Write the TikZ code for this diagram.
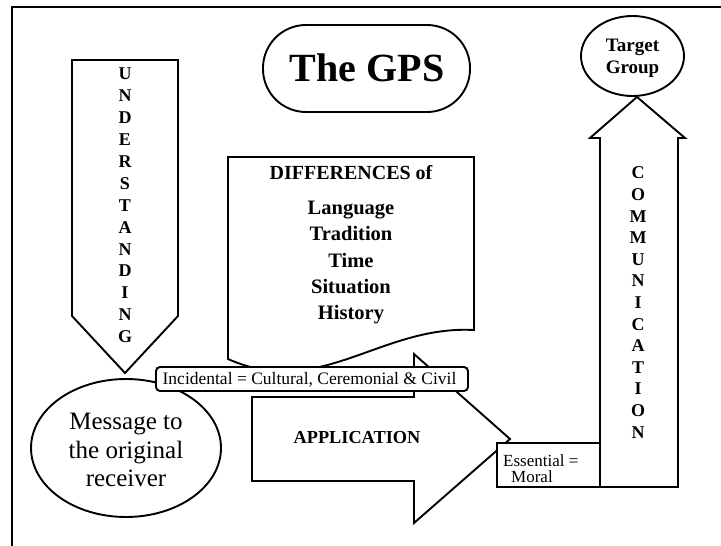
\documentclass[tikz,border=0pt]{standalone}
\usepackage{fontspec}
\setmainfont{Liberation Serif}
\begin{document}
\begin{tikzpicture}[x=1pt,y=-1pt,line join=miter,
  shp/.style={draw=black,fill=white,line width=1.9pt},
  letter/.style={font=\fontsize{18}{20}\selectfont\bfseries,inner sep=0pt},
  txt/.style={inner sep=0pt,align=center}]
\useasboundingbox (0,0) rectangle (721,546);
\fill[white] (0,0) rectangle (721,546);
% frame
\draw[line width=2.5pt] (12,560) -- (12,7) -- (730,7);
% understanding arrow
\draw[shp] (72,60) -- (178,60) -- (178,316) -- (125,373) -- (72,316) -- cycle;
\foreach \l [count=\i] in {U,N,D,E,R,S,T,A,N,D,I,N,G}
  \node[letter] (u\i) at (125,{74+(\i-1)*21.9}) {\l};
% differences document
\draw[shp] (228,157) -- (474,157) -- (474,330)
  .. controls (380,325) and (320,400) .. (228,359) -- cycle;
\node[txt,font=\fontsize{20}{26}\selectfont\bfseries] (diff) at (351,173) {DIFFERENCES of};
\node[txt,font=\fontsize{20.5}{26.2}\selectfont\bfseries,anchor=north] (list) at (351,201)
  {Language\\Tradition\\Time\\Situation\\History};
% message ellipse
\draw[shp] (126,448) ellipse [x radius=95,y radius=69];
\node[txt,font=\fontsize{25}{28.5}\selectfont] (msg) at (126,450)
  {Message to\\the original\\receiver};
% application arrow
\draw[shp] (252,397) -- (414,397) -- (414,354) -- (510,439) -- (414,523)
  -- (414,481) -- (252,481) -- cycle;
\node[txt,font=\fontsize{18.3}{22}\selectfont\bfseries] (app) at (357,438) {APPLICATION};
% incidental box
\draw[shp,rounded corners=4pt] (156,367) rectangle (468,391);
\node[txt,font=\fontsize{17.5}{19}\selectfont] (inc) at (309.5,379.5)
  {Incidental = Cultural, Ceremonial \& Civil};
% essential box
\draw[shp] (497,443) rectangle (600,487);
\node[txt,anchor=base west,font=\fontsize{17}{16}\selectfont] (ess) at (503,466) {Essential =};
\node[txt,anchor=base west,font=\fontsize{17}{16}\selectfont] (mor) at (511,482) {Moral};
% communication arrow
\draw[shp] (600,487) -- (600,138) -- (590,138) -- (637,97) -- (685,138)
  -- (678,138) -- (678,487) -- cycle;
\foreach \l [count=\i] in {C,O,M,M,U,N,I,C,A,T,I,O,N}
  \node[letter] (c\i) at (638,{173+(\i-1)*21.6}) {\l};
% target group
\draw[shp] (632.5,56) ellipse [x radius=51.5,y radius=40];
\node[txt,font=\fontsize{19}{22}\selectfont\bfseries] (tg) at (632.5,58)
  {Target\\Group};
% title
\draw[shp,rounded corners=43pt] (263,25) rectangle (470,112);
\node[txt,font=\fontsize{40}{48}\selectfont\bfseries] (gps) at (367,68) {The GPS};
\end{tikzpicture}
\end{document}
